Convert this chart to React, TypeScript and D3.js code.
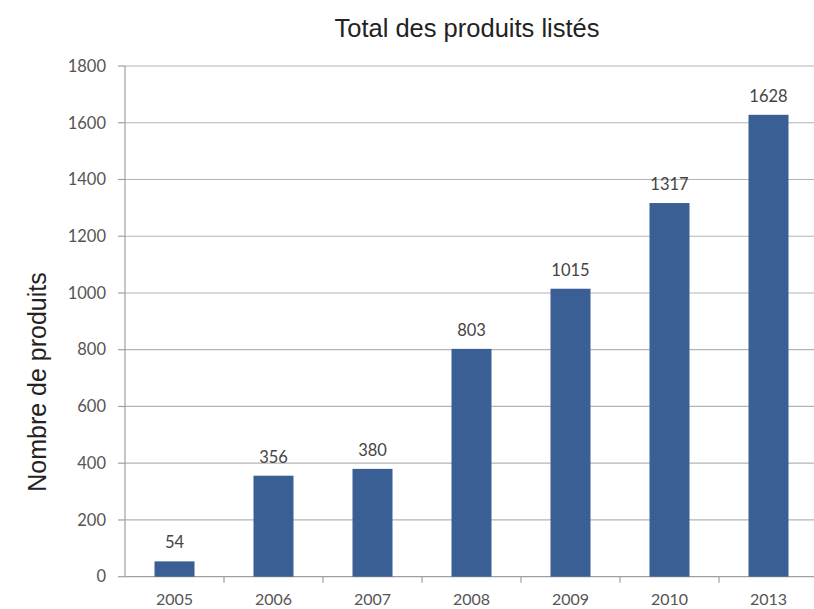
import React from "react";
import * as d3 from "d3";

const years = ["2005", "2006", "2007", "2008", "2009", "2010", "2013"];
const values = [54, 356, 380, 803, 1015, 1317, 1628];
const yTicks = [0, 200, 400, 600, 800, 1000, 1200, 1400, 1600, 1800];
const title = "Total des produits listés";
const yTitle = "Nombre de produits";

export default function App() {
  const W = 814, H = 609;
  const x0 = 125, x1 = 818, yTop = 66, yBot = 576.7;
  const x = d3.scaleBand<string>().domain(years).range([x0, x1]);
  const y = d3.scaleLinear().domain([0, 1800]).range([yBot, yTop]);
  const band = x.bandwidth();
  const barW = 40;
  const font = "Lato, 'Open Sans', sans-serif";
  return (
    <svg width={W} height={H} style={{ position: "absolute", left: 0, top: 0, background: "#fff" }}>
      <text x={467} y={37} textAnchor="middle" fontFamily="'Liberation Sans', Arial, sans-serif" fontSize={25.5} fill="#222">{title}</text>
      <text transform={`translate(46,${382}) rotate(-90)`} textAnchor="middle" fontFamily="'Liberation Sans', Arial, sans-serif" fontSize={25} fill="#222">{yTitle}</text>
      {yTicks.map((t) => (
        <g key={t}>
          {t > 0 && <line x1={x0} x2={x1} y1={y(t)} y2={y(t)} stroke="#b4b4b4" strokeWidth={1.2} />}
          <line x1={118} x2={x0} y1={y(t)} y2={y(t)} stroke="#a0a0a0" strokeWidth={1.2} />
          <text x={106} y={y(t)} dy="0.35em" textAnchor="end" fontFamily={font} fontSize={16.5} fill="#555">{t}</text>
        </g>
      ))}
      <line x1={x0} x2={x0} y1={yTop} y2={yBot} stroke="#a0a0a0" strokeWidth={1.2} />
      <line x1={x0} x2={x1} y1={yBot} y2={yBot} stroke="#a0a0a0" strokeWidth={1.2} />
      {years.map((yr, i) => {
        const c = (x(yr) as number) + band / 2;
        return (
          <g key={yr}>
            <line x1={(x(yr) as number) + band} x2={(x(yr) as number) + band} y1={yBot} y2={yBot + 6} stroke="#a0a0a0" strokeWidth={1.2} />
            <rect x={c - barW / 2} y={y(values[i])} width={barW} height={yBot - y(values[i])} fill="#3a5f94" />
            <text x={c} y={y(values[i]) - 13} textAnchor="middle" fontFamily={font} fontSize={16.5} fill="#444">{values[i]}</text>
            <text x={c} y={605} textAnchor="middle" fontFamily={font} fontSize={16} fill="#555">{yr}</text>
          </g>
        );
      })}
    </svg>
  );
}
